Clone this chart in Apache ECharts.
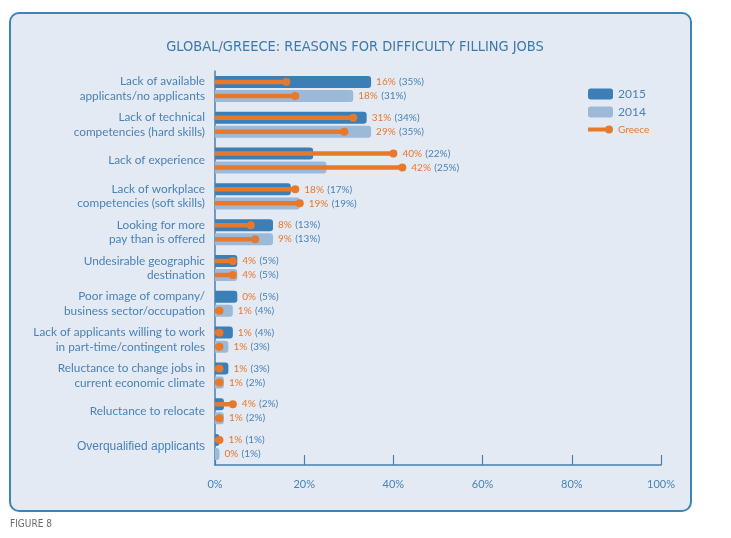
<!DOCTYPE html>
<html><head><meta charset="utf-8">
<script src="https://cdn.jsdelivr.net/npm/echarts@6/dist/echarts.min.js"></script>
<style>html,body{margin:0;padding:0;background:#fff}#c{width:731px;height:538px}</style>
</head><body><div id="c"></div>
<script>
const categories = [
  'Lack of available\napplicants/no applicants',
  'Lack of technical\ncompetencies (hard skills)',
  'Lack of experience',
  'Lack of workplace\ncompetencies (soft skills)',
  'Looking for more\npay than is offered',
  'Undesirable geographic\ndestination',
  'Poor image of company/\nbusiness sector/occupation',
  'Lack of applicants willing to work\nin part-time/contingent roles',
  'Reluctance to change jobs in\ncurrent economic climate',
  'Reluctance to relocate',
  'Overqualified applicants'
];
const global2015 = [35, 34, 22, 17, 13, 5, 5, 4, 3, 2, 1];
const global2014 = [31, 35, 25, 19, 13, 5, 4, 3, 2, 2, 1];
const greece2015 = [16, 31, 40, 18, 8, 4, 0, 1, 1, 4, 1];
const greece2014 = [18, 29, 42, 19, 9, 4, 1, 1, 1, 1, 0];
const xTicks = [0, 20, 40, 60, 80, 100];

const BLUE_D = '#3b7fb6', BLUE_L = '#9cb9d8', ORANGE = '#e8782a', TXT = '#4a82b5';
const FONT = 'Lato, "Noto Sans", sans-serif';
const NARROW = '"Liberation Sans Narrow", "DejaVu Sans Condensed", sans-serif';

const greeceData = [];
categories.forEach((c, i) => {
  greeceData.push([greece2015[i], i, 0, global2015[i]]);
  greeceData.push([greece2014[i], i, 1, global2014[i]]);
});
const yData = categories.map((c, i) => i === categories.length - 1
  ? { value: c, textStyle: { fontFamily: '"Liberation Sans", Arial, sans-serif', fontSize: 12 } }
  : c);

const chart = echarts.init(document.getElementById('c'));
chart.setOption({
  animation: false,
  backgroundColor: '#ffffff',
  graphic: [
    { type: 'rect', z: -10, shape: { x: 10, y: 13, width: 681, height: 498, r: 9 },
      style: { fill: '#e3eaf4', stroke: '#3d85b8', lineWidth: 2 } },
    { type: 'text', left: 10, top: 519, style: { text: 'FIGURE 8', fill: '#6a6a6a', fontSize: 10, fontFamily: NARROW } }
  ],
  title: {
    text: 'GLOBAL/GREECE: REASONS FOR DIFFICULTY FILLING JOBS',
    left: 350, textAlign: 'center', top: 35,
    textStyle: { color: '#3f78a8', fontSize: 14.5, fontWeight: 'normal', fontFamily: NARROW }
  },
  legend: {
    orient: 'vertical', left: 583, top: 83, itemWidth: 25, itemHeight: 11, itemGap: 6,
    selectedMode: false,
    textStyle: { color: TXT, fontSize: 12, fontFamily: FONT },
    data: [
      { name: '2015', icon: 'roundRect' },
      { name: '2014', icon: 'roundRect' },
      { name: 'Greece', icon: 'path://M0,0L0.01,0L0.01,0.01L0,0.01ZM0,3.5L21,3.5L21,7.5L0,7.5ZM17,5.5A4,4,0,1,1,25,5.5A4,4,0,1,1,17,5.5ZM24.99,10.99L25,10.99L25,11L24.99,11Z',
        textStyle: { color: ORANGE, fontSize: 10 } }
    ]
  },
  grid: { left: 215, right: 70, top: 71, bottom: 73, containLabel: false },
  xAxis: {
    type: 'value', min: 0, max: 100, interval: 20,
    axisLine: { show: true, lineStyle: { color: '#4a80ad', width: 1.5 } },
    axisTick: { show: true, inside: true, length: 10, lineStyle: { color: '#4a80ad', width: 1.2 } },
    splitLine: { show: false },
    axisLabel: { formatter: '{value}%', color: TXT, fontSize: 11, margin: 14, fontFamily: FONT }
  },
  yAxis: {
    type: 'category', data: yData, inverse: true,
    axisLine: { show: true, lineStyle: { color: '#4a80ad', width: 1.5 } },
    axisTick: { show: false },
    axisLabel: { color: TXT, fontSize: 11.8, lineHeight: 14.5, margin: 10, fontFamily: FONT, align: 'right' }
  },
  series: [
    { name: '2015', type: 'bar', data: global2015, barWidth: 12, barGap: '17%',
      itemStyle: { color: BLUE_D, borderRadius: [0, 3, 3, 0] } },
    { name: '2014', type: 'bar', data: global2014, barWidth: 12,
      itemStyle: { color: BLUE_L, borderRadius: [0, 3, 3, 0] } },
    { name: 'Greece', type: 'custom', color: ORANGE, itemStyle: { color: ORANGE },
      z: 5, clip: false,
      encode: { x: 0, y: 1 },
      data: greeceData,
      renderItem: function (params, api) {
        const g = api.value(0), cat = api.value(1), s = api.value(2), glob = api.value(3);
        const p0 = api.coord([0, cat]);
        const p1 = api.coord([g, cat]);
        const pb = api.coord([glob, cat]);
        const y = p0[1] + (s === 0 ? -7 : 7);
        const children = [];
        let endX = pb[0];
        if (g > 0) {
          children.push({ type: 'line', shape: { x1: p0[0], y1: y, x2: p1[0], y2: y },
            style: { stroke: ORANGE, lineWidth: 4.5 } });
          children.push({ type: 'circle', shape: { cx: p1[0], cy: y, r: 4 }, style: { fill: ORANGE } });
          endX = Math.max(endX, p1[0] + 4);
        }
        children.push({ type: 'text', x: endX + 5, y: y,
          style: { text: '{g|' + g + '%} {b|(' + glob + '%)}', verticalAlign: 'middle', align: 'left',
            rich: { g: { fill: ORANGE, fontSize: 10, fontFamily: FONT }, b: { fill: TXT, fontSize: 10, fontFamily: FONT } } } });
        return { type: 'group', children: children };
      }
    }
  ]
});
</script></body></html>
